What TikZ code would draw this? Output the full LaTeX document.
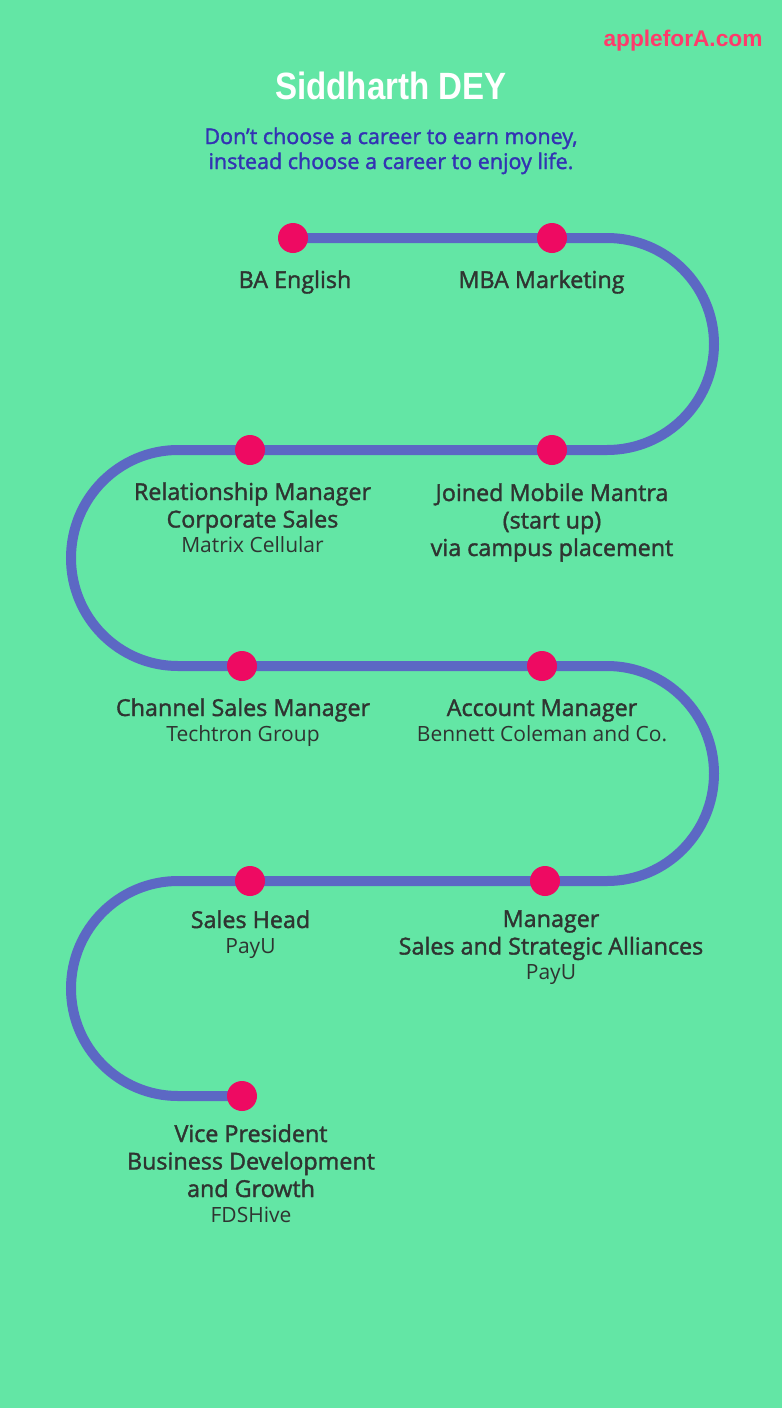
\documentclass[tikz,border=0pt]{standalone}
\usepackage{fontspec}
\setmainfont{Open Sans}[BoldFont={Open Sans},BoldFeatures={FakeBold=1.6}]
\newfontfamily\headfont[FakeStretch=0.87]{Liberation Sans}
\newfontfamily\markfont{Liberation Sans}
\usetikzlibrary{backgrounds}
\definecolor{bgc}{HTML}{63E6A5}
\definecolor{trackc}{HTML}{5C68C4}
\definecolor{dotc}{HTML}{EE0A62}
\definecolor{quotec}{HTML}{3333B3}
\definecolor{markc}{HTML}{FF3A6B}
\definecolor{txtc}{HTML}{2F3431}
\newcommand{\co}[1]{{\fontsize{21}{25}\selectfont\mdseries #1}}
\begin{document}
\begin{tikzpicture}[x=1pt,y=-1pt,
  dotnode/.style={circle,fill=dotc,minimum size=30pt,inner sep=0pt},
  track/.style={draw=trackc,line width=10pt},
  lab/.style={anchor=base,align=center,text=txtc,inner sep=0pt,font=\fontsize{23.3}{27.5}\selectfont\bfseries}]
\path[use as bounding box] (0,0) rectangle (782,1408);
% dots
\node[dotnode] (d1) at (293,238) {};
\node[dotnode] (d2) at (552,238) {};
\node[dotnode] (d3) at (250,450) {};
\node[dotnode] (d4) at (552,450) {};
\node[dotnode] (d5) at (242,666) {};
\node[dotnode] (d6) at (542,666) {};
\node[dotnode] (d7) at (250,881) {};
\node[dotnode] (d8) at (545,881) {};
\node[dotnode] (d9) at (242,1096) {};
\coordinate (r1) at (607,238);
\coordinate (l2) at (178,450);
\coordinate (r3) at (607,666);
\coordinate (l4) at (178,881);
\begin{pgfonlayer}{background}
\fill[bgc] (0,0) rectangle (782,1408);
\draw[track] (d1.center) -- (d2.center) -- (r1)
  arc[start angle=-90,end angle=90,x radius=107,y radius=106]
  -- (d4.center) -- (d3.center) -- (l2)
  arc[start angle=270,end angle=90,x radius=107,y radius=108]
  -- (d5.center) -- (d6.center) -- (r3)
  arc[start angle=-90,end angle=90,x radius=107,y radius=107.5]
  -- (d8.center) -- (d7.center) -- (l4)
  arc[start angle=270,end angle=90,x radius=107,y radius=107.5]
  -- (d9.center);
\end{pgfonlayer}
% header (base anchor = baseline of last line)
\node[anchor=base,text=markc,inner sep=0pt,font=\markfont\bfseries\fontsize{22.7}{26}\selectfont] (mark) at (683,46) {appleforA.com};
\node[anchor=base,text=white,inner sep=0pt,font=\headfont\bfseries\fontsize{38}{42}\selectfont] (title) at (391,99) {Siddharth DEY};
\node[anchor=base,align=center,text=quotec,inner sep=0pt,font=\fontsize{21.5}{25}\selectfont\bfseries] (quote) at (391,169) {Don{\char"27}t choose a career to earn money,\\ instead choose a career to enjoy life.};
% labels
\node[lab] (t1) at (295,288) {BA English};
\node[lab] (t2) at (541.5,288) {MBA Marketing};
\node[lab] (t3) at (252.5,552.5) {Relationship Manager\\Corporate Sales\\[-2.5pt]\co{Matrix Cellular}};
\node[lab] (t4) at (552,556) {Joined Mobile Mantra\\(start up)\\via campus placement};
\node[lab] (t5) at (243,741) {Channel Sales Manager\\[-2.5pt]\co{Techtron Group}};
\node[lab] (t6) at (542,741) {Account Manager\\[-2.5pt]\co{Bennett Coleman and Co.}};
\node[lab] (t7) at (250.5,953) {Sales Head\\[-2.5pt]\co{PayU}};
\node[lab] (t8) at (551,979.5) {Manager\\Sales and Strategic Alliances\\[-2.5pt]\co{PayU}};
\node[lab] (t9) at (251,1222) {Vice President\\Business Development\\and Growth\\[-2.5pt]\co{FDSHive}};
\end{tikzpicture}
\end{document}
